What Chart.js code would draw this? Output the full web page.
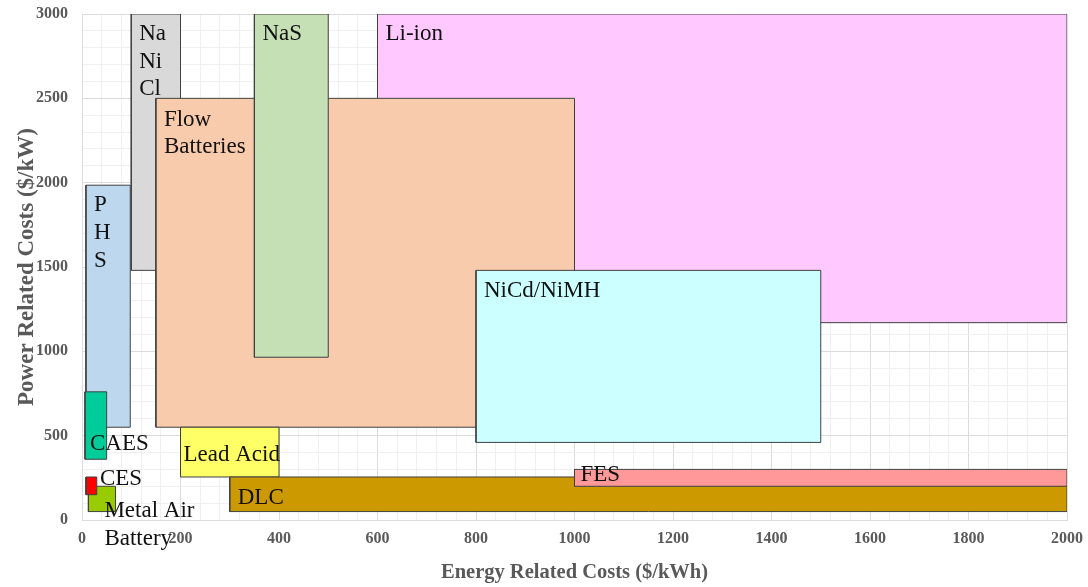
<!DOCTYPE html>
<html>
<head>
<meta charset="utf-8">
<title>Energy storage cost ranges</title>
<script src="https://cdn.jsdelivr.net/npm/chart.js@4/dist/chart.umd.min.js"></script>
<style>
    body { margin: 0; background: #fff; }
    #wrap { width: 1088px; height: 587px; }
</style>
</head>
<body>
<div id="wrap"><canvas id="costChart" width="1088" height="587"></canvas></div>
<script>
// Technologies, listed from the back layer to the front layer
const technologies = ['Li-ion', 'NaNiCl', 'Flow Batteries', 'NaS', 'NiCd/NiMH', 'PHS', 'CAES', 'Lead Acid', 'DLC', 'FES', 'Metal Air Battery', 'CES'];
// Energy related cost range ($/kWh)
const energyMin = [600, 100, 150, 350, 800, 8, 6, 200, 300, 1000, 13, 8];
const energyMax = [2000, 200, 1000, 500, 1500, 98, 50, 400, 2000, 2000, 68, 30];
// Power related cost range ($/kW)
const powerMin = [1170, 1480, 550, 965, 460, 550, 360, 255, 50, 200, 50, 150];
const powerMax = [3000, 3000, 2500, 3000, 1480, 1985, 760, 550, 255, 300, 200, 255];
// Text written on each box
const boxLabels = [['Li-ion'], ['Na', 'Ni', 'Cl'], ['Flow', 'Batteries'], ['NaS'], ['NiCd/NiMH'], ['P', 'H', 'S'], ['CAES'], ['Lead Acid'], ['DLC'], ['FES'], ['Metal Air', 'Battery'], ['CES']];
// Axis tick labels
const xTickLabels = [0, 200, 400, 600, 800, 1000, 1200, 1400, 1600, 1800, 2000];
const yTickLabels = [0, 500, 1000, 1500, 2000, 2500, 3000];

// Styling (kept apart from the data)
const fillColors = ['#ffc9ff', '#d9d9d9', '#f8cbad', '#c5e0b4', '#ccffff', '#bdd7ee', '#00cc99', '#ffff66', '#cc9900', '#ff9999', '#99cc00', '#ff0000'];
// label offset in pixels from the top-left corner of each box: [dx, dy, lineHeight]
const labelOffsets = [[8, 20, 27], [8, 20, 27.5], [8, 22, 27], [8, 20, 27], [8, 21, 27], [8, 20, 28], [5, 52, 27], [3, 28, 27], [8, 21, 27], [6, 6, 27], [16, 25, 27.5], [14, 2, 27]];

const serif = '"Liberation Serif", "Times New Roman", serif';

// Build one closed rectangle per technology
const datasets = technologies.map((name, i) => ({
    label: name,
    data: [
        { x: energyMin[i], y: powerMin[i] },
        { x: energyMax[i], y: powerMin[i] },
        { x: energyMax[i], y: powerMax[i] },
        { x: energyMin[i], y: powerMax[i] },
        { x: energyMin[i], y: powerMin[i] }
    ],
    showLine: true,
    fill: 'shape',
    backgroundColor: fillColors[i],
    borderColor: '#404040',
    borderWidth: 1,
    pointRadius: 0,
    pointHoverRadius: 0,
    tension: 0,
    order: technologies.length - i  // later entries sit on top
}));

// Writes the technology names onto the boxes
const boxLabelPlugin = {
    id: 'boxLabels',
    afterDatasetsDraw(chart) {
        const ctx = chart.ctx;
        const xs = chart.scales.x;
        const ys = chart.scales.y;
        ctx.save();
        ctx.font = '23px ' + serif;
        ctx.fillStyle = '#111';
        ctx.textAlign = 'left';
        ctx.textBaseline = 'middle';
        boxLabels.forEach((lines, i) => {
            const [dx, dy, lh] = labelOffsets[i];
            const left = xs.getPixelForValue(energyMin[i]);
            const top = ys.getPixelForValue(powerMax[i]);
            lines.forEach((line, k) => {
                ctx.fillText(line, left + dx, top + dy + k * lh);
            });
        });
        ctx.restore();
    }
};

const majorGrid = '#dcdcdc';
const minorGrid = '#f0f0f0';
const axisText = '#595959';

const costChart = new Chart(document.getElementById('costChart').getContext('2d'), {
    type: 'scatter',
    data: { datasets: datasets },
    options: {
        responsive: false,
        animation: false,
        layout: { padding: { top: 14, right: 21, left: 0, bottom: 0 } },
        plugins: {
            legend: { display: false },
            tooltip: { enabled: false }
        },
        scales: {
            x: {
                type: 'linear',
                min: 0,
                max: 2000,
                afterFit: scale => {
                    scale.height = 67;
                    scale.paddingLeft = 0;
                    scale.paddingRight = 0;
                },
                border: { color: majorGrid },
                grid: {
                    drawTicks: false,
                    color: c => xTickLabels.includes(c.tick.value) ? majorGrid : minorGrid
                },
                ticks: {
                    stepSize: 40,
                    autoSkip: false,
                    maxRotation: 0,
                    padding: 9,
                    color: axisText,
                    font: { family: serif, size: 16, weight: 'bold' },
                    callback: v => xTickLabels.includes(v) ? String(v) : ''
                },
                title: {
                    display: true,
                    text: 'Energy Related Costs ($/kWh)',
                    color: axisText,
                    font: { family: serif, size: 20.5, weight: 'bold' },
                    padding: { top: 0, bottom: 2 }
                }
            },
            y: {
                type: 'linear',
                min: 0,
                max: 3000,
                afterFit: scale => {
                    scale.width = 82;
                    scale.paddingTop = 0;
                    scale.paddingBottom = 0;
                },
                border: { color: majorGrid },
                grid: {
                    drawTicks: false,
                    color: c => yTickLabels.includes(c.tick.value) ? majorGrid : minorGrid
                },
                ticks: {
                    stepSize: 100,
                    autoSkip: false,
                    padding: 14,
                    color: axisText,
                    font: { family: serif, size: 16, weight: 'bold' },
                    callback: v => yTickLabels.includes(v) ? String(v) : ''
                },
                title: {
                    display: true,
                    text: 'Power Related Costs ($/kW)',
                    color: axisText,
                    font: { family: serif, size: 23, weight: 'bold' },
                    padding: { top: 13, bottom: 0 }
                }
            }
        }
    },
    plugins: [boxLabelPlugin]
});
</script>
</body>
</html>
